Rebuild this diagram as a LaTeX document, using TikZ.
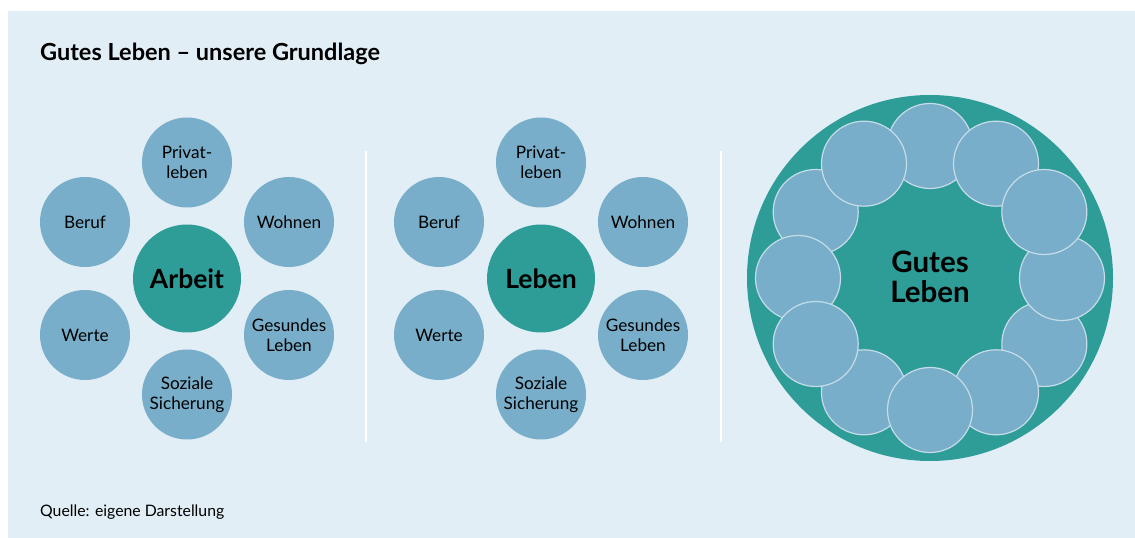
\documentclass[tikz,border=0pt]{standalone}
\usepackage{fontspec}
\setmainfont{Lato}
\definecolor{panel}{HTML}{E1EEF6}
\definecolor{bubble}{HTML}{78AEC9}
\definecolor{petrol}{HTML}{2E9D98}
\definecolor{rim}{HTML}{C6DCE8}
\begin{document}
\begin{tikzpicture}[x=1pt,y=1pt,
	bubble/.style={circle,fill=bubble,minimum size=90pt,inner sep=0pt,align=center,font=\fontsize{17.2}{20.5}\selectfont},
	hub/.style={circle,fill=petrol,minimum size=108pt,inner sep=0pt,font=\fontsize{26.5}{30}\selectfont\bfseries},
	ringbubble/.style={circle,fill=bubble,draw=rim,line width=1.2pt,minimum size=85pt,inner sep=0pt}]
	\useasboundingbox (0,0) rectangle (1135,538);
	\fill[panel] (8,0) rectangle (1135,527);
	\node[anchor=base west,inner sep=0pt,font=\fontsize{23.5}{28}\selectfont\bfseries] (titel) at (40,477) {Gutes Leben – unsere Grundlage};
	\node[anchor=base west,inner sep=0pt,font=\fontsize{15.8}{19}\selectfont] (quelle) at (40,21) {Quelle: eigene Darstellung};
	% Trennlinien
	\draw[white,line width=2pt] (366,96)--(366,387) (721,96)--(721,387);
	% Arbeit und Leben mit sechs Themen
	\foreach \mitte/\name/\x in {arbeit/Arbeit/187,leben/Leben/541}{
		\node[hub] (\mitte) at (\x,259.5) {\name};
		\foreach \dx/\dy/\kurz/\txt in {0/116/privat/{Privat-\\leben},102/56.5/wohnen/Wohnen,102/-56.5/gesund/{Gesundes\\Leben},0/-116/sozial/{Soziale\\Sicherung},-102/-56.5/werte/Werte,-102/56.5/beruf/Beruf}
		\node[bubble] (\mitte-\kurz) at ([shift={(\dx,\dy)}]\mitte) {\txt};
	}
	% Gutes Leben
	\node[circle,fill=petrol,minimum size=366pt,inner sep=0pt] (gutesleben) at (930,260) {};
	\foreach \w [count=\i] in {90,150,180,-120,-150,-30,-60,-90,0,60,30,120}
	\node[ringbubble] (ring\i) at ([shift={(\w:132)}]gutesleben) {};
	\node[align=center,font=\fontsize{29.5}{30}\selectfont\bfseries] (gutestext) at ([yshift=1.5pt]gutesleben) {Gutes\\Leben};
\end{tikzpicture}
\end{document}
